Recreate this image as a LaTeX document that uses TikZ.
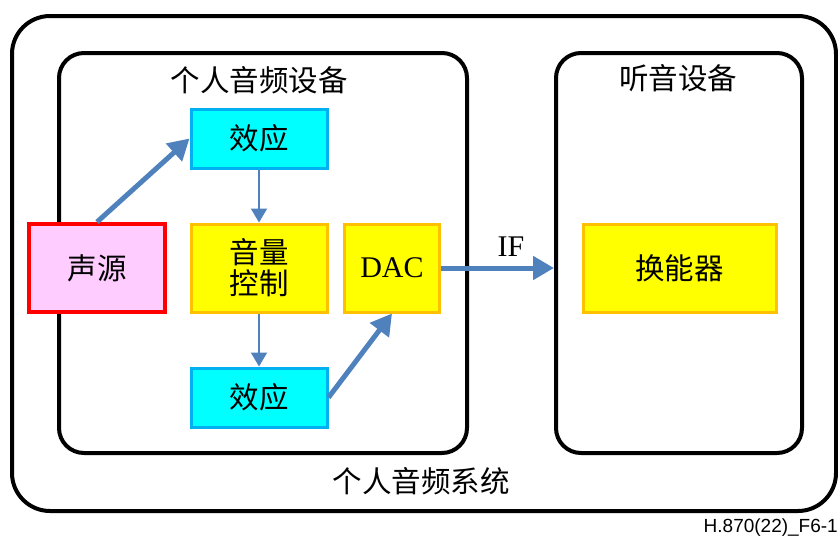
\documentclass[tikz,border=0pt]{standalone}
\usepackage{fontspec}
\setmainfont{Liberation Serif}
\newfontfamily\cjk{Noto Sans CJK SC}
\newfontfamily\arial{Liberation Sans}
\usetikzlibrary{arrows.meta}
\definecolor{arrowblue}{HTML}{4F81BD}
\definecolor{cyanfill}{HTML}{00FFFF}
\definecolor{cyanedge}{HTML}{00B0F0}
\definecolor{yellowfill}{HTML}{FFFF00}
\definecolor{orangeedge}{HTML}{FFC000}
\definecolor{pinkfill}{HTML}{FFCCFF}
\definecolor{rededge}{HTML}{FF0000}
\tikzset{
  container/.style={draw=black, line width=4pt, rounded corners=#1, inner sep=0pt},
  blockbox/.style={draw, line width=3pt, inner sep=0pt, align=center, font=\fontsize{29.5}{31}\selectfont\cjk},
  fxbox/.style={blockbox, fill=cyanfill, draw=cyanedge, minimum width=136pt, minimum height=59pt},
  ctrlbox/.style={blockbox, fill=yellowfill, draw=orangeedge, minimum height=88pt},
  srcbox/.style={blockbox, fill=pinkfill, draw=rededge, line width=4pt, minimum width=136pt, minimum height=88pt},
  thickarrow/.style={draw=arrowblue, line width=5pt, -{Triangle[length=21pt,width=23pt]}},
  thinarrow/.style={draw=arrowblue, line width=2pt, -{Triangle[length=14pt,width=16pt]}},
  title/.style={font=\fontsize{29.5}{31}\selectfont\cjk, inner sep=0pt},
}
\begin{document}
\begin{tikzpicture}[x=1pt,y=-1pt]
\useasboundingbox (0,0) rectangle (838,539);
% containers
\node[container=38pt, minimum width=824pt, minimum height=495pt] (sys) at (424,263.5) {};
\node[container=25pt, minimum width=408pt, minimum height=400pt] (dev1) at (263,253) {};
\node[container=25pt, minimum width=246pt, minimum height=400pt] (dev2) at (679,253) {};
% titles
\node[title] (t1) at (259,80) {个人音频设备};
\node[title] (t2) at (678,78) {听音设备};
\node[title] (t3) at (421,481) {个人音频系统};
% blocks
\node[fxbox] (fx1) at (259,138.5) {效应};
\node[srcbox] (src) at (97,268) {声源};
\node[ctrlbox, minimum width=136pt, font=\fontsize{29.5}{31}\selectfont\cjk] (vol) at (259,268) {音量\\控制};
\node[ctrlbox, minimum width=95pt, font=\fontsize{30}{32}\selectfont] (dac) at (392,268) {DAC};
\node[fxbox] (fx2) at (259,397.5) {效应};
\node[ctrlbox, minimum width=193pt] (trans) at (679.5,268) {换能器};
% arrows
\draw[thickarrow] (src.north) -- (fx1.west);
\draw[thinarrow] (fx1.south) -- (vol.north);
\draw[thinarrow] (vol.south) -- (fx2.north);
\draw[thickarrow] (fx2.east) -- (dac.south);
\draw[thickarrow] (dac.east) -- (dac.east -| dev2.west);
\node[font=\fontsize{30}{32}\selectfont, inner sep=0pt] (iflab) at (511,247) {IF};
% figure id
\node[anchor=east, font=\fontsize{19}{21}\selectfont\arial, inner sep=0pt] (figid) at (838,528) {H.870(22)\_F6-1};
\end{tikzpicture}
\end{document}
